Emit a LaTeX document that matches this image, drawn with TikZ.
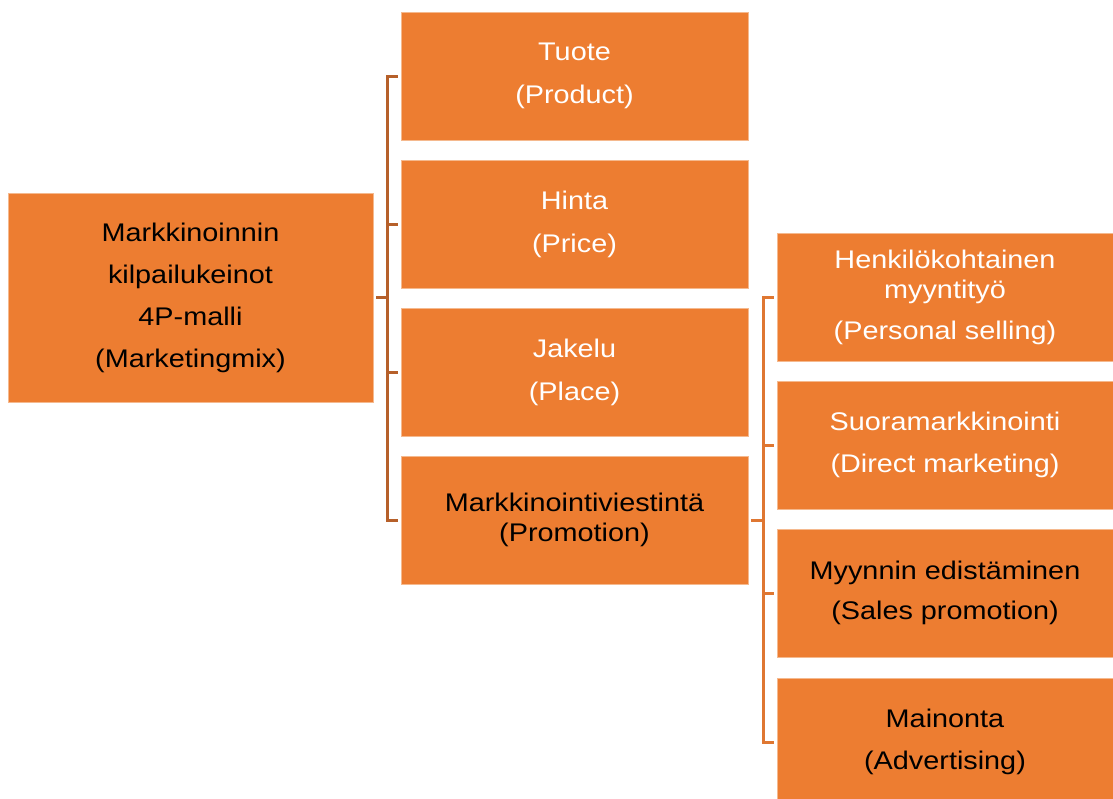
\documentclass[tikz,border=0pt]{standalone}
\usepackage{fontspec}
\setmainfont{Liberation Sans}[FakeStretch=1.13]
\definecolor{boxfill}{HTML}{ED7D31}
\definecolor{boxedge}{HTML}{F5B98E}
\definecolor{linkdark}{HTML}{B6602A}
\definecolor{linklight}{HTML}{DF7732}
\tikzset{
  mbox/.style={rectangle, fill=boxfill, draw=boxedge, line width=0.6pt,
    inner sep=0pt, outer sep=0pt, align=center,
    font=\fontsize{25.5}{30}\selectfont},
  rootbox/.style={mbox, minimum width=365pt, minimum height=209pt, text=black},
  midbox/.style={mbox, minimum width=347pt, minimum height=128pt},
  leafbox/.style={mbox, minimum width=336pt, minimum height=128pt},
  link/.style={line width=3pt, shorten <=3pt, shorten >=3pt},
  linkA/.style={link, draw=linkdark},
  linkB/.style={link, draw=linklight}
}
\begin{document}
\begin{tikzpicture}[x=1pt, y=-1pt]
  \useasboundingbox (0,0) rectangle (1113,798);
  \clip (0,0) rectangle (1113,798);

  % main topic
  \node[rootbox] (root) at (190.5,297.5)
    {Markkinoinnin\\[12pt]kilpailukeinot\\[12pt]4P-malli\\[12pt](Marketingmix)};

  % the four P's
  \node[midbox, text=white] (tuote)  at (574.5,76)  {Tuote\\[13pt](Product)};
  \node[midbox, text=white] (hinta)  at (574.5,224) {Hinta\\[13pt](Price)};
  \node[midbox, text=white] (jakelu) at (574.5,372) {Jakelu\\[13pt](Place)};
  \node[midbox, text=black] (promo)  at (574.5,520) {Markkinointiviestintä\\(Promotion)};

  % promotion tools
  \node[leafbox, text=white] (henk)  at (945,297)
    {Henkilökohtainen\\myyntityö\\[11pt](Personal selling)};
  \node[leafbox, text=white] (suora) at (945,445) {Suoramarkkinointi\\[12pt](Direct marketing)};
  \node[leafbox, text=black] (myyn)  at (945,593) {Myynnin edistäminen\\[10pt](Sales promotion)};
  \node[leafbox, text=black] (main)  at (945,742) {Mainonta\\[12pt](Advertising)};

  % bracket from the main topic
  \foreach \c in {tuote,hinta,jakelu,promo}
    \draw[linkA] (root.east) -- ++(14,0) |- (\c.west);

  % bracket from promotion
  \foreach \c in {henk,suora,myyn,main}
    \draw[linkB] (promo.east) -- ++(15,0) |- (\c.west);
\end{tikzpicture}
\end{document}
